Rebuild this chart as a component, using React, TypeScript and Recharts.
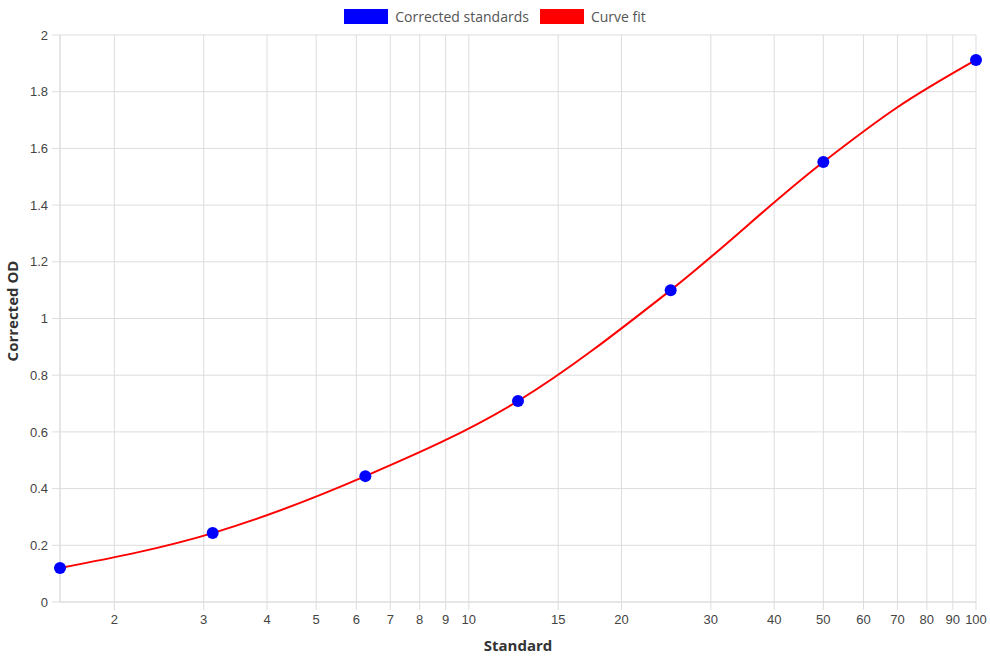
import React from "react";
import {
  ComposedChart,
  Line,
  Scatter,
  XAxis,
  YAxis,
  CartesianGrid,
} from "recharts";

// Standard concentrations (two-fold dilution series) and their corrected OD
const standards = [1.5625, 3.125, 6.25, 12.5, 25, 50, 100];
const correctedOD = [0.12, 0.243, 0.444, 0.709, 1.1, 1.552, 1.912];

// Fitted curve samples (one extra sample where the fit flattens out)
const fitX = [1.5625, 3.125, 6.25, 12.5, 25, 50, 70, 100];
const fitOD = [0.12, 0.243, 0.444, 0.709, 1.1, 1.552, 1.745, 1.912];

const xTicks = [2, 3, 4, 5, 6, 7, 8, 9, 10, 15, 20, 30, 40, 50, 60, 70, 80, 90, 100];
const yTicks = [0, 0.2, 0.4, 0.6, 0.8, 1, 1.2, 1.4, 1.6, 1.8, 2];

const BLUE = "#0000ff";
const RED = "#ff0000";
const GRID = "#dddddd";
const TICK_FONT = "'Liberation Sans', Arial, sans-serif";
const TITLE_FONT = "'Open Sans', sans-serif";

const points = standards.map((x, i) => ({ x, y: correctedOD[i] }));
const curve = fitX.map((x, i) => ({ x, y: fitOD[i] }));

function LegendBox() {
  const items = [
    { label: "Corrected standards", color: BLUE },
    { label: "Curve fit", color: RED },
  ];
  return (
    <div
      style={{
        position: "absolute",
        top: 7,
        left: 0,
        width: 990,
        display: "flex",
        justifyContent: "center",
        gap: 11,
        fontFamily: TITLE_FONT,
        fontSize: 14,
        color: "#555",
        lineHeight: "19px",
      }}
    >
      {items.map((it) => (
        <div key={it.label} style={{ display: "flex", alignItems: "center" }}>
          <span
            style={{
              display: "inline-block",
              width: 44,
              height: 15,
              background: it.color,
              marginRight: 7,
            }}
          />
          {it.label}
        </div>
      ))}
    </div>
  );
}

export default function App() {
  return (
    <div style={{ position: "absolute", left: 0, top: 0, width: 990, height: 660, background: "#fff" }}>
      <ComposedChart width={990} height={660} margin={{ top: 35, right: 14, bottom: 0, left: 0 }}>
        <CartesianGrid stroke={GRID} vertical horizontal />
        <XAxis
          dataKey="x"
          type="number"
          scale="log"
          domain={[1.5625, 100]}
          ticks={xTicks}
          interval={0}
          height={58}
          tickSize={8}
          tickMargin={5}
          axisLine={{ stroke: GRID }}
          tickLine={{ stroke: GRID }}
          tick={{ fill: "#444", fontSize: 13, fontFamily: TICK_FONT }}
          label={{
            value: "Standard",
            position: "insideBottom",
            offset: 9,
            style: { fill: "#333", fontSize: 15, fontWeight: 700, fontFamily: TITLE_FONT },
          }}
        />
        <YAxis
          type="number"
          domain={[0, 2]}
          ticks={yTicks}
          width={60}
          tickSize={8}
          tickMargin={4}
          axisLine={{ stroke: GRID }}
          tickLine={{ stroke: GRID }}
          tick={{ fill: "#444", fontSize: 13, fontFamily: TICK_FONT }}
          label={{
            content: () => (
              <text
                transform="translate(18, 311) rotate(-90)"
                textAnchor="middle"
                fill="#333"
                fontSize={15}
                fontWeight={700}
                fontFamily={TITLE_FONT}
              >
                Corrected OD
              </text>
            ),
          }}
        />
        <Line
          data={curve}
          dataKey="y"
          name="Curve fit"
          type="monotone"
          stroke={RED}
          strokeWidth={2}
          dot={false}
          isAnimationActive={false}
        />
        <Scatter
          data={points}
          dataKey="y"
          name="Corrected standards"
          fill={BLUE}
          shape={(p: any) => <circle cx={p.cx} cy={p.cy} r={6} fill={BLUE} />}
          isAnimationActive={false}
        />
      </ComposedChart>
      <LegendBox />
    </div>
  );
}
